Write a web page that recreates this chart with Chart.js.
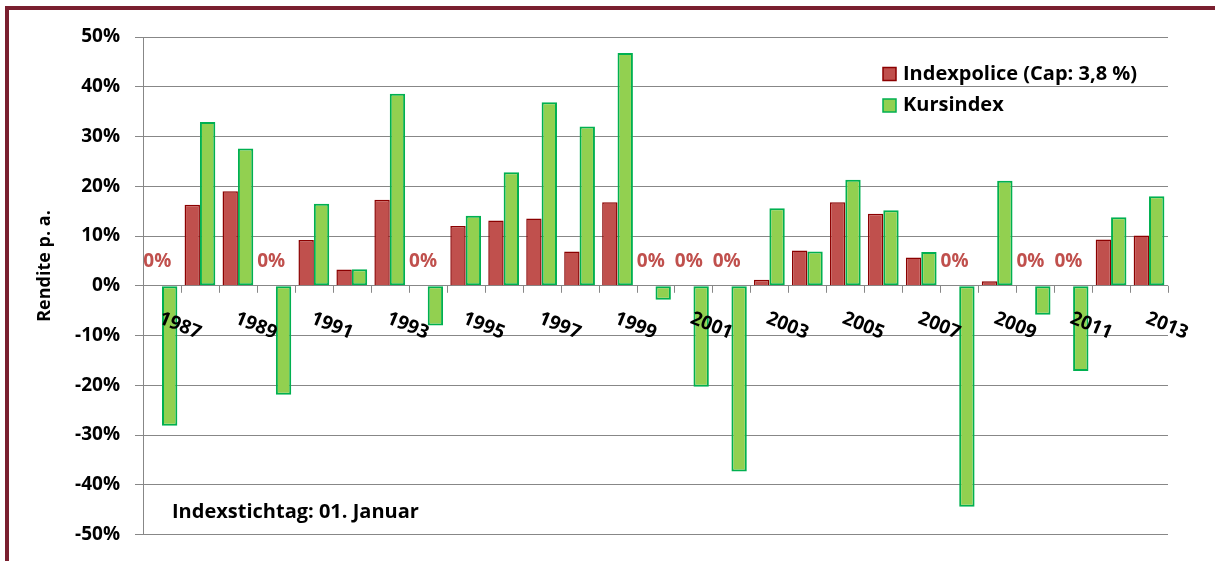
<!DOCTYPE html>
<html>
<head>
<meta charset="utf-8">
<script src="https://cdn.jsdelivr.net/npm/chart.js@4.4.0/dist/chart.umd.min.js"></script>
<style>
  html, body { margin: 0; padding: 0; background: #fff; }
  #wrap { position: relative; width: 1215px; height: 561px; overflow: hidden; }
  #frame { position: absolute; left: 5px; top: 6px; width: 1300px; height: 700px;
           border-left: 4px solid #7a1f2f; border-top: 4px solid #7a1f2f; pointer-events: none; }
</style>
</head>
<body>
<div id="wrap">
  <canvas id="chart" width="1215" height="561"></canvas>
  <div id="frame"></div>
</div>
<script>
const years = ['1987', '1988', '1989', '1990', '1991', '1992', '1993', '1994', '1995', '1996',
  '1997', '1998', '1999', '2000', '2001', '2002', '2003', '2004', '2005', '2006',
  '2007', '2008', '2009', '2010', '2011', '2012', '2013'];
const indexpolice = [0, 16.3, 19.0, 0, 9.2, 3.3, 17.3, 0, 12.0, 13.1,
  13.5, 6.9, 16.8, 0, 0, 0, 1.2, 7.1, 16.8, 14.5,
  5.7, 0, 0.9, 0, 0, 9.3, 10.1];
const kursindex = [-28.1, 32.9, 27.6, -21.9, 16.5, 3.35, 38.6, -8.0, 14.1, 22.8,
  36.9, 32.0, 46.8, -2.8, -20.3, -37.3, 15.6, 6.9, 21.3, 15.2,
  6.8, -44.4, 21.1, -5.8, -17.1, 13.8, 18.0];
const seriesNames = ['Indexpolice (Cap: 3,8 %)', 'Kursindex'];
const yTicks = [-50, -40, -30, -20, -10, 0, 10, 20, 30, 40, 50];

const FONT = '"Open Sans", Lato, sans-serif';
const GRID = '#878787';
const redFill = '#c0504d', redLine = '#8b0000';
const greenFill = '#92d050', greenLine = '#00b050';

const extras = {
  id: 'extras',
  afterDraw(chart) {
    const ctx = chart.ctx;
    const x = chart.scales.x, y = chart.scales.y;
    const zero = y.getPixelForValue(0);
    ctx.save();

    // tick marks on the zero line at category boundaries
    ctx.strokeStyle = GRID;
    ctx.lineWidth = 1;
    ctx.beginPath();
    for (let i = 0; i <= years.length; i++) {
      let px;
      if (i === 0) px = x.left;
      else if (i === years.length) px = x.right;
      else px = (x.getPixelForValue(i - 1) + x.getPixelForValue(i)) / 2;
      px = Math.round(px) + 0.5;
      ctx.moveTo(px, zero);
      ctx.lineTo(px, zero + 7);
    }
    ctx.stroke();

    // rotated year labels, every second year
    ctx.fillStyle = '#000';
    ctx.font = 'bold 19px ' + FONT;
    ctx.textAlign = 'center';
    ctx.textBaseline = 'middle';
    years.forEach((yr, i) => {
      if (i % 2 !== 0) return;
      const cx = x.getPixelForValue(i) + 18;
      ctx.save();
      ctx.translate(cx, zero + 40);
      ctx.rotate(22 * Math.PI / 180);
      ctx.fillText(yr, 0, 0);
      ctx.restore();
    });

    // "0%" labels for zero-value Indexpolice bars
    const meta = chart.getDatasetMeta(0);
    ctx.fillStyle = redFill;
    ctx.font = 'bold 19px ' + FONT;
    indexpolice.forEach((v, i) => {
      if (v !== 0) return;
      ctx.fillText('0%', meta.data[i].x + 3, zero - 24);
    });

    // legend
    ctx.textAlign = 'left';
    ctx.font = 'bold 20px ' + FONT;
    const legend = [[redFill, redLine], [greenFill, greenLine]];
    legend.forEach((c, i) => {
      const ly = 74 + i * 31.5;
      ctx.fillStyle = c[0];
      ctx.fillRect(883, ly - 6.5, 13, 13);
      ctx.strokeStyle = c[1];
      ctx.lineWidth = 1.5;
      ctx.strokeRect(883, ly - 6.5, 13, 13);
      ctx.fillStyle = '#000';
      ctx.fillText(seriesNames[i], 903, ly);
    });

    // note
    ctx.fillText('Indexstichtag: 01. Januar', 172, 512);

    // y axis title
    ctx.save();
    ctx.translate(45, 266);
    ctx.rotate(-Math.PI / 2);
    ctx.textAlign = 'center';
    ctx.font = 'bold 18px ' + FONT;
    ctx.fillText('Rendite p. a.', 0, 0);
    ctx.restore();

    ctx.restore();
  }
};

new Chart(document.getElementById('chart').getContext('2d'), {
  type: 'bar',
  data: {
    labels: years,
    datasets: [
      {
        label: seriesNames[0],
        data: indexpolice,
        backgroundColor: redFill,
        borderColor: redLine,
        borderWidth: 1.5,
        categoryPercentage: 0.81,
        barPercentage: 1.0
      },
      {
        label: seriesNames[1],
        data: kursindex,
        backgroundColor: greenFill,
        borderColor: greenLine,
        borderWidth: 2,
        borderSkipped: false,
        categoryPercentage: 0.81,
        barPercentage: 1.0
      }
    ]
  },
  options: {
    responsive: false,
    animation: false,
    layout: { padding: { left: 0, top: 37, right: 47, bottom: 26 } },
    plugins: {
      legend: { display: false },
      tooltip: { enabled: false }
    },
    scales: {
      x: {
        display: false
      },
      y: {
        min: -50,
        max: 50,
        afterBuildTicks(scale) {
          scale.ticks = yTicks.map(v => ({ value: v }));
        },
        afterFit(scale) {
          scale.width = 143;
        },
        border: { color: GRID, width: 1 },
        grid: { color: GRID, lineWidth: 1, tickLength: 8 },
        ticks: {
          padding: 15,
          color: '#000',
          font: { family: FONT, size: 19, weight: 'bold' },
          callback: v => v + '%'
        }
      }
    }
  },
  plugins: [extras]
});
</script>
</body>
</html>
